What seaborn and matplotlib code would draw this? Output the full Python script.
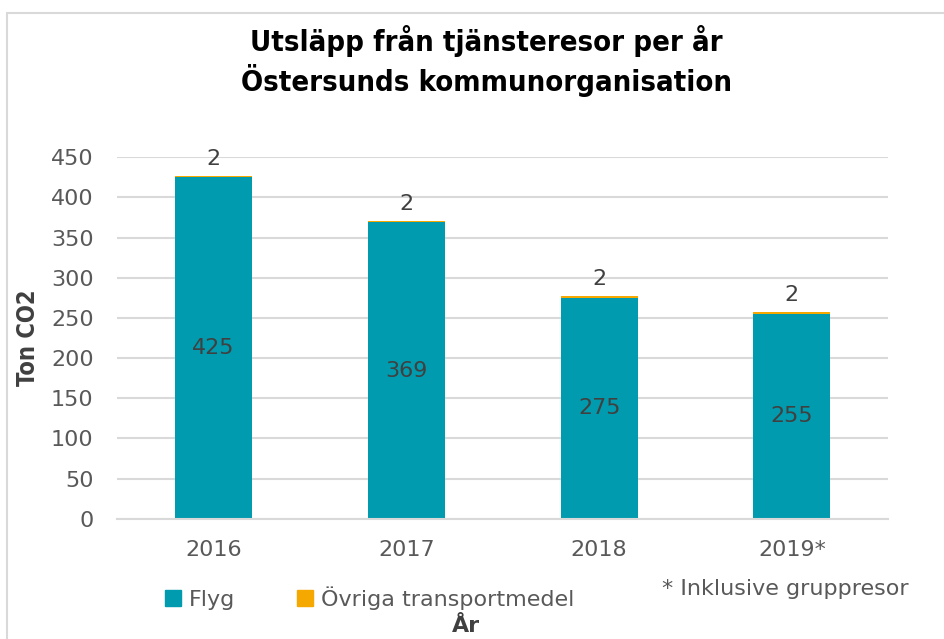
import matplotlib
matplotlib.use("Agg")
import matplotlib.pyplot as plt
import seaborn as sns
import pandas as pd
from matplotlib.patches import Rectangle

years = ["2016", "2017", "2018", "2019*"]
flyg = [425, 369, 275, 255]
ovriga = [2, 2, 2, 2]
series_names = ["Flyg", "Övriga transportmedel"]
colors = ["#009BAE", "#F5A800"]

sns.set_theme(style="white")
plt.rcParams['font.family'] = ['DejaVu Sans']
TXT = "#595959"
FS = 16

fig = plt.figure(figsize=(9.45, 6.39), dpi=100)
ax = fig.add_axes([0.124, 0.188, 0.816, 0.566])

df = pd.DataFrame({"År": years, "Flyg": flyg, "Total": [a + b for a, b in zip(flyg, ovriga)]})
sns.barplot(data=df, x="År", y="Total", color=colors[1], width=0.4, ax=ax,
            saturation=1, linewidth=0, edgecolor="none")
sns.barplot(data=df, x="År", y="Flyg", color=colors[0], width=0.4, ax=ax,
            saturation=1, linewidth=0, edgecolor="none")

ax.set_ylim(0, 450)
ax.set_yticks(range(0, 451, 50))
ax.set_xlim(-0.5, 3.5)
ax.yaxis.grid(True, color="#D9D9D9", linewidth=1.5)
ax.set_axisbelow(True)
for s in ["top", "right", "left"]:
    ax.spines[s].set_visible(False)
ax.spines["bottom"].set_color("#D9D9D9")
ax.spines["bottom"].set_linewidth(1.5)
ax.tick_params(axis="y", length=0, labelsize=FS, labelcolor=TXT, pad=17)
ax.tick_params(axis="x", length=0, labelsize=FS, labelcolor=TXT, pad=15)

for i, (f, o) in enumerate(zip(flyg, ovriga)):
    ax.text(i, f / 2, str(f), ha="center", va="center", fontsize=FS, color="#404040")
    ax.annotate(str(o), (i, f + o), xytext=(0, 5), textcoords="offset points",
                ha="center", va="bottom", fontsize=FS, color="#404040")

ax.set_xlabel("År", fontsize=FS, fontweight="bold", color="#404040", labelpad=0)
ax.xaxis.set_label_coords(0.452, -0.268)
ax.set_ylabel("Ton CO2", fontsize=17, fontweight="bold", color="#404040", fontstretch="condensed")
ax.yaxis.set_label_coords(-0.1, 0.5)

fig.text(0.515, 0.905, "Utsläpp från tjänsteresor per år\nÖstersunds kommunorganisation",
         ha="center", va="center", fontsize=21, fontweight="bold", color="#000000",
         fontstretch="condensed", linespacing=1.25)

# legend
handles = [Rectangle((0, 0), 1, 1, color=c) for c in colors]
fig.legend(handles, series_names, loc="center left", bbox_to_anchor=(0.175, 0.064),
           ncol=2, frameon=False, fontsize=FS, handlelength=0.7, handleheight=0.7,
           handletextpad=0.35, columnspacing=2.8, labelcolor=TXT, borderaxespad=0,
           borderpad=0)

fig.text(0.701, 0.078, "* Inklusive gruppresor", ha="left", va="center", fontsize=FS, color=TXT)

# outer frame
fig.patches.append(Rectangle((0.007, -0.05), 1.1, 1.03, transform=fig.transFigure,
                             fill=False, edgecolor="#D9D9D9", linewidth=1.5))

fig.savefig("out.png", dpi=100)
